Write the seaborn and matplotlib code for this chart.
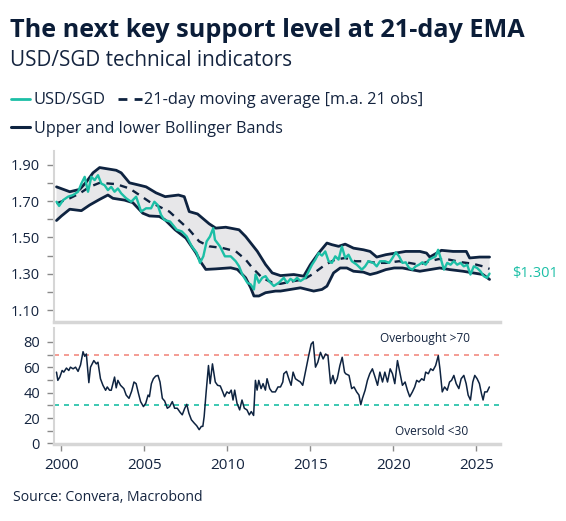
import numpy as np
import pandas as pd
import matplotlib
matplotlib.use("Agg")
import matplotlib.pyplot as plt
import seaborn as sns
from matplotlib.lines import Line2D
from matplotlib.ticker import FixedLocator

# ---------------- data ----------------
usd_years = [1999.70, 1999.86, 2000.1, 2000.4, 2000.7, 2001.0, 2001.2, 2001.4, 2001.6, 2001.8,
             2002.0, 2002.2, 2002.4, 2002.6, 2002.8, 2003.0, 2003.2, 2003.4, 2003.6, 2003.9,
             2004.2, 2004.5, 2004.8, 2005.1, 2005.4, 2005.6, 2005.8, 2006.0, 2006.2,
             2006.55, 2006.95, 2007.25, 2007.55, 2007.85, 2008.15, 2008.35, 2008.55, 2008.75, 2008.95,
             2009.15, 2009.25, 2009.55, 2009.85, 2010.2, 2010.5, 2010.7, 2010.9, 2011.2, 2011.4,
             2011.6, 2011.7, 2011.9, 2012.1, 2012.3, 2012.5, 2012.8, 2013.1,
             2013.4, 2013.6, 2013.8, 2014.0, 2014.2, 2014.4, 2014.7, 2014.9, 2015.1, 2015.3,
             2015.5, 2015.7, 2015.9, 2016.1, 2016.3, 2016.5, 2016.7, 2016.9, 2017.1, 2017.3,
             2017.5, 2017.8, 2018.1, 2018.3, 2018.5, 2018.8, 2019.0, 2019.2, 2019.5,
             2019.75, 2019.95, 2020.15, 2020.35, 2020.55, 2020.75, 2020.95, 2021.15, 2021.35, 2021.55,
             2021.75, 2021.95, 2022.15, 2022.35, 2022.55, 2022.7, 2022.85, 2023.05, 2023.25, 2023.45,
             2023.65, 2023.85, 2024.05, 2024.25, 2024.45, 2024.65, 2024.85, 2025.05, 2025.25, 2025.45,
             2025.65, 2025.8]
usd_sgd = [1.696, 1.673, 1.705, 1.724, 1.733, 1.751, 1.796, 1.833, 1.751, 1.833,
           1.815, 1.842, 1.796, 1.787, 1.760, 1.778, 1.751, 1.769, 1.742, 1.715,
           1.696, 1.724, 1.642, 1.660, 1.660, 1.696, 1.678, 1.624, 1.596,
           1.587, 1.542, 1.533, 1.505, 1.451, 1.415, 1.360, 1.396, 1.478, 1.505,
           1.551, 1.487, 1.451, 1.396, 1.396, 1.369, 1.342, 1.296, 1.251, 1.242,
           1.214, 1.296, 1.251, 1.278, 1.287, 1.260, 1.233, 1.251,
           1.278, 1.250, 1.272, 1.260, 1.278, 1.260, 1.278, 1.314, 1.350, 1.378,
           1.414, 1.400, 1.423, 1.369, 1.360, 1.396, 1.378, 1.450, 1.387, 1.405,
           1.369, 1.350, 1.323, 1.341, 1.369, 1.360, 1.341, 1.369, 1.369,
           1.360, 1.387, 1.418, 1.396, 1.360, 1.363, 1.332, 1.323, 1.341, 1.350,
           1.363, 1.350, 1.378, 1.387, 1.396, 1.432, 1.387, 1.323, 1.360, 1.350,
           1.369, 1.350, 1.360, 1.341, 1.350, 1.296, 1.341, 1.332, 1.314, 1.287,
           1.278, 1.301]

ma_years = [1999.7, 2000.5, 2001.1, 2001.7, 2002.3, 2003.3, 2004.1, 2004.7, 2005.3, 2005.9, 2006.5,
            2007.05, 2007.7, 2008.3, 2008.9, 2009.7, 2010.5, 2011.1, 2011.5, 2012.1, 2012.7, 2013.2,
            2014.0, 2014.6, 2015.1, 2015.5, 2015.9, 2016.5, 2017.1, 2017.7, 2018.3, 2019.0,
            2019.55, 2020.35, 2020.95, 2021.55, 2022.15, 2022.75, 2023.35, 2024.15, 2024.75, 2025.4, 2025.8]
ma_21 = [1.687, 1.715, 1.742, 1.778, 1.800, 1.793, 1.769, 1.733, 1.696, 1.669, 1.642,
         1.596, 1.542, 1.478, 1.451, 1.442, 1.424, 1.378, 1.333, 1.278, 1.251, 1.245,
         1.260, 1.269, 1.296, 1.323, 1.350, 1.378, 1.387, 1.369, 1.369, 1.360,
         1.360, 1.369, 1.360, 1.350, 1.369, 1.381, 1.378, 1.363, 1.356, 1.341, 1.327]

upper_years = [1999.70, 2000.5, 2001.1, 2001.5, 2001.9, 2002.3, 2003.3, 2003.6, 2004.1, 2004.7, 2005.1, 2005.7,
               2006.25, 2007.05, 2007.4, 2007.7, 2008.2, 2008.9, 2009.3, 2009.9, 2010.7, 2011.1, 2011.8,
               2012.3, 2012.7, 2013.2,
               2014.0, 2014.6, 2015.0, 2015.5, 2016.0, 2016.3, 2016.7, 2017.1, 2017.6, 2018.2, 2018.6, 2019.0,
               2019.55, 2020.15, 2020.75, 2021.6, 2022.0, 2022.2, 2022.9, 2023.6, 2024.4, 2024.6, 2025.2, 2025.8]
upper_band = [1.778, 1.751, 1.764, 1.805, 1.855, 1.884, 1.869, 1.855, 1.800, 1.787, 1.778, 1.745,
              1.724, 1.733, 1.724, 1.642, 1.629, 1.575, 1.551, 1.556, 1.542, 1.505, 1.424,
              1.351, 1.305, 1.290,
              1.296, 1.287, 1.350, 1.414, 1.469, 1.460, 1.451, 1.463, 1.441, 1.432, 1.423, 1.392,
              1.405, 1.414, 1.423, 1.423, 1.414, 1.392, 1.429, 1.423, 1.423, 1.387, 1.392, 1.392]

lower_years = [1999.70, 2000.0, 2000.5, 2001.2, 2001.7, 2002.3, 2002.8, 2003.1, 2003.8, 2004.3, 2004.9, 2005.3, 2005.9,
               2006.25, 2006.85, 2007.5, 2008.1, 2008.4, 2008.7, 2009.3, 2010.2, 2010.6, 2011.1, 2011.4, 2011.6,
               2011.9, 2012.3, 2012.9,
               2013.2, 2013.8, 2014.4, 2014.8, 2015.2, 2015.7, 2016.0, 2016.4, 2016.8, 2017.2, 2017.6, 2018.2,
               2018.6, 2019.0,
               2019.55, 2020.05, 2020.55, 2021.05, 2021.6, 2022.2, 2022.8, 2023.4, 2024.2, 2024.8, 2025.4, 2025.8]
lower_band = [1.593, 1.618, 1.655, 1.647, 1.678, 1.709, 1.733, 1.715, 1.705, 1.691, 1.633, 1.618, 1.615,
              1.596, 1.542, 1.496, 1.415, 1.364, 1.324, 1.327, 1.333, 1.324, 1.278, 1.224, 1.178,
              1.178, 1.196, 1.205,
              1.205, 1.214, 1.223, 1.214, 1.205, 1.214, 1.232, 1.305, 1.332, 1.332, 1.314, 1.309,
              1.296, 1.305,
              1.323, 1.332, 1.332, 1.323, 1.314, 1.323, 1.332, 1.323, 1.314, 1.305, 1.296, 1.269]

rsi_years = [1999.70, 1999.78, 1999.9, 2000.04, 2000.14, 2000.3, 2000.44, 2000.54, 2000.7, 2000.85,
             2001.0, 2001.15, 2001.3, 2001.4, 2001.5, 2001.65, 2001.75, 2001.95, 2002.1, 2002.2,
             2002.35, 2002.5, 2002.66, 2002.76, 2002.9, 2003.0, 2003.2, 2003.3, 2003.4, 2003.56,
             2003.76, 2003.9, 2004.07, 2004.23, 2004.37, 2004.5, 2004.64, 2004.77, 2004.94, 2005.08,
             2005.22, 2005.3, 2005.42, 2005.54, 2005.68, 2005.82, 2005.94, 2006.08, 2006.22, 2006.38,
             2006.52, 2006.68, 2006.82, 2006.98, 2007.15, 2007.28, 2007.43, 2007.55, 2007.68, 2007.83,
             2008.0, 2008.15, 2008.3, 2008.43,
             2008.52, 2008.6, 2008.72, 2008.86, 2008.96, 2009.1, 2009.27, 2009.41, 2009.57, 2009.72,
             2009.83, 2009.97, 2010.11, 2010.23, 2010.34, 2010.44, 2010.58, 2010.74, 2010.88, 2011.02,
             2011.18, 2011.32, 2011.44, 2011.58, 2011.69, 2011.79, 2011.89, 2012.03, 2012.15, 2012.29,
             2012.39, 2012.55, 2012.69, 2012.89, 2013.05, 2013.2, 2013.34, 2013.4, 2013.56, 2013.7,
             2013.84, 2013.96, 2014.1, 2014.24, 2014.4, 2014.54, 2014.7, 2014.8, 2014.9, 2015.05,
             2015.17, 2015.31, 2015.45, 2015.61, 2015.77, 2015.92, 2016.06, 2016.22, 2016.36, 2016.48,
             2016.62, 2016.78, 2016.92, 2017.06,
             2017.13, 2017.33, 2017.49, 2017.63, 2017.79, 2017.93, 2018.04, 2018.14, 2018.3, 2018.44,
             2018.58, 2018.74, 2018.9, 2019.05, 2019.19, 2019.35, 2019.49, 2019.65, 2019.81, 2019.95,
             2020.09, 2020.25, 2020.39, 2020.55, 2020.71, 2020.85, 2020.99, 2021.15, 2021.29, 2021.41,
             2021.55, 2021.71, 2021.85, 2021.95, 2022.11, 2022.25, 2022.39, 2022.55, 2022.71, 2022.81,
             2022.95, 2023.09, 2023.25, 2023.39, 2023.51, 2023.65, 2023.79, 2023.95, 2024.09, 2024.25,
             2024.39, 2024.51, 2024.65, 2024.79, 2024.91, 2025.05, 2025.19, 2025.31, 2025.41, 2025.51,
             2025.65, 2025.79]
rsi = [56.2, 49.7, 52.3, 57.5, 56.2, 59.4, 57.5, 60.1, 58.8, 60.1,
       56.8, 61.9, 72.3, 68.7, 70.5, 47.9, 60.1, 65.3, 62.7, 64.0,
       51.0, 45.8, 41.9, 44.5, 41.9, 41.9, 52.3, 43.8, 49.7, 45.8,
       43.2, 38.1, 35.5, 41.2, 48.4, 47.1, 39.4, 32.9, 29.0, 31.6,
       38.1, 36.8, 47.1, 51.0, 53.1, 53.6, 48.4, 35.5, 33.4, 27.7,
       29.0, 32.9, 27.7, 27.7, 24.5, 22.5, 27.7, 30.8, 23.8, 18.6,
       16.0, 13.9, 10.8, 13.4,
       13.4, 21.2, 40.6, 61.4, 47.1, 62.7, 48.4, 45.8, 45.3, 40.6,
       36.8, 40.6, 39.4, 42.0, 34.2, 42.0, 31.6, 26.4, 34.2, 27.7,
       26.4, 22.5, 25.1, 22.0, 49.7, 42.0, 49.7, 43.2, 47.1, 42.0,
       51.0, 43.2, 40.6, 40.6, 44.5, 44.5, 48.4, 54.9, 56.8, 51.0,
       45.8, 56.2, 51.0, 49.7, 48.4, 45.8, 56.2, 62.7, 69.2, 78.3,
       80.1, 60.1, 64.0, 71.8, 66.6, 70.5, 69.2, 47.1, 53.6, 47.1,
       51.0, 61.4, 67.9, 56.2,
       54.9, 53.6, 43.2, 44.5, 40.6, 38.1, 30.5, 35.5, 41.9, 49.7,
       54.9, 58.8, 52.3, 45.8, 56.2, 48.4, 56.2, 48.4, 58.8, 54.9,
       47.1, 65.3, 56.2, 45.8, 48.4, 41.9, 36.8, 40.6, 44.5, 49.7,
       48.4, 51.0, 49.7, 56.2, 54.9, 58.8, 57.5, 61.4, 69.2, 58.8,
       40.6, 44.5, 41.9, 48.4, 49.7, 53.6, 47.1, 43.2, 51.0, 53.6,
       47.1, 38.1, 34.2, 48.4, 53.6, 51.0, 47.1, 39.4, 34.2, 40.6,
       40.6, 44.5]

overbought = 70
oversold = 30
x_ticks = [2000, 2005, 2010, 2015, 2020, 2025]
price_ticks = [1.10, 1.30, 1.50, 1.70, 1.90]
rsi_ticks = [0, 20, 40, 60, 80]
last_label = "$1.301"

title = "The next key support level at 21-day EMA"
subtitle = "USD/SGD technical indicators"
leg_usd = "USD/SGD"
leg_ma = "21-day moving average [m.a. 21 obs]"
leg_bb = "Upper and lower Bollinger Bands"
source = "Source: Convera, Macrobond"

# ---------------- style ----------------
TEAL = "#1cbfa6"
NAVY = "#0e2340"
TXT = "#14243f"
FILL = "#e7e7e9"
SPINE = "#d6d6d6"
TICK = "#8a8a8a"
RED = "#f28b82"

sns.set_theme(style="white")
plt.rcParams['font.family'] = ['Open Sans', 'DejaVu Sans']

W, H = 566, 521
fig = plt.figure(figsize=(W / 100, H / 100), dpi=100)

def fx(px):
    return px / W

def fy(py):
    return 1 - py / H

ax1 = fig.add_axes([fx(54), fy(322), fx(446), 171 / H])
ax2 = fig.add_axes([fx(54), fy(444), fx(446), 116 / H])

x_lo, x_hi = 1999.55, 2026.43

# ---- top panel ----
ax1.fill(np.r_[upper_years, lower_years[::-1]], np.r_[upper_band, lower_band[::-1]],
         color=FILL, lw=0, zorder=1)
sns.lineplot(x=upper_years, y=upper_band, ax=ax1, color=NAVY, lw=2.0, zorder=2)
sns.lineplot(x=lower_years, y=lower_band, ax=ax1, color=NAVY, lw=2.0, zorder=2)
sns.lineplot(x=ma_years, y=ma_21, ax=ax1, color=NAVY, lw=1.7, linestyle=(0, (3.2, 2.6)), zorder=3)
sns.lineplot(x=usd_years, y=usd_sgd, ax=ax1, color=TEAL, lw=1.7, zorder=4)

ax1.set_xlim(x_lo, x_hi)
ax1.set_ylim(1.035, 1.975)
ax1.set_yticks(price_ticks)
ax1.set_yticklabels([f"{v:.2f}" for v in price_ticks])
ax1.yaxis.set_minor_locator(FixedLocator([1.20, 1.40, 1.60, 1.80]))
ax1.set_xticks([])
ax1.set_xlabel("")
ax1.set_ylabel("")

ax1.annotate(last_label, xy=(usd_years[-1], usd_sgd[-1]), xytext=(16.5, 0),
             textcoords="offset points", va="center", ha="left", color=TEAL,
             fontsize=10.5, annotation_clip=False)

# ---- bottom panel ----
ax2.axhline(overbought, color=RED, lw=1.2, linestyle=(0, (3, 3)), zorder=1)
ax2.axhline(oversold, color=TEAL, lw=1.2, linestyle=(0, (3, 3)), zorder=1)
sns.lineplot(x=rsi_years, y=rsi, ax=ax2, color=NAVY, lw=1.1, zorder=3)
ax2.set_xlim(x_lo, x_hi)
ax2.set_ylim(-0.5, 91)
ax2.set_yticks(rsi_ticks)
ax2.set_yticklabels([str(v) for v in rsi_ticks])
ax2.yaxis.set_minor_locator(FixedLocator([10, 30, 50, 70]))
ax2.set_xticks(x_ticks)
ax2.set_xticklabels([str(v) for v in x_ticks])
ax2.set_xlabel("")
ax2.set_ylabel("")
ax2.text(2021.9, 83, "Overbought >70", ha="center", va="center", color=TXT, fontsize=8.6)
ax2.text(2022.3, 9.7, "Oversold <30", ha="center", va="center", color=TXT, fontsize=8.6)

for ax in (ax1, ax2):
    ax.set_facecolor("white")
    ax.grid(False)
    for s in ("top", "right"):
        ax.spines[s].set_visible(False)
    ax.spines["left"].set_color(SPINE)
    ax.spines["left"].set_linewidth(1.5)
    ax.spines["bottom"].set_color(SPINE)
    ax.spines["bottom"].set_linewidth(2.5)
    ax.tick_params(axis="y", which="both", direction="out", length=5, width=1,
                   color=TICK, labelcolor=TXT, labelsize=10.5, pad=5, left=True)
ax2.tick_params(axis="x", which="both", direction="out", length=5, width=1,
                color=TICK, labelcolor=TXT, labelsize=11, pad=5, bottom=True)

# ---- header / legend / source ----
t_title = fig.text(fx(10), fy(36.5), title, fontsize=16, weight="bold", color="#0b1d38", va="baseline")
t_sub = fig.text(fx(10), fy(66.5), subtitle, fontsize=13, color=TXT, va="baseline")
t_l1 = fig.text(fx(33.5), fy(104), leg_usd, fontsize=10.5, color=TXT, va="baseline")
t_l2 = fig.text(fx(144), fy(104), leg_ma, fontsize=10.5, color=TXT, va="baseline")
t_l3 = fig.text(fx(33.5), fy(132.5), leg_bb, fontsize=10.5, color=TXT, va="baseline")
t_src = fig.text(fx(13), fy(501), source, fontsize=9.5, color=TXT, va="baseline")

fig.add_artist(Line2D([fx(11), fx(30)], [fy(98.7), fy(98.7)], color=TEAL, lw=2.0))
fig.add_artist(Line2D([fx(118), fx(142)], [fy(98.7), fy(98.7)], color=NAVY, lw=2.0,
                      linestyle=(0, (3.2, 2.6))))
fig.add_artist(Line2D([fx(11), fx(30)], [fy(127.3), fy(127.3)], color=NAVY, lw=2.2))

fig.canvas.draw()
r = fig.canvas.get_renderer()
for t, target in [(t_title, 517), (t_sub, 281), (t_l1, 72), (t_l2, 280), (t_l3, 249), (t_src, 191)]:
    w = t.get_window_extent(renderer=r).width
    t.set_fontsize(t.get_fontsize() * target / w)

fig.savefig("out.png", dpi=100)
